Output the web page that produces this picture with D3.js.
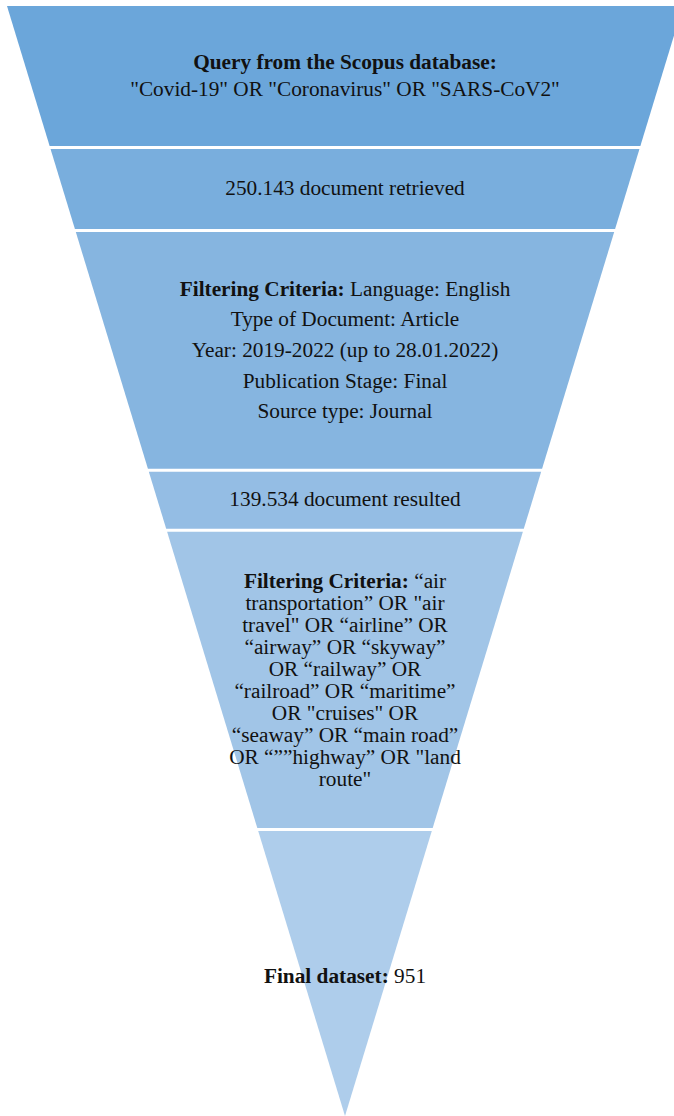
<!DOCTYPE html>
<html>
<head>
<meta charset="utf-8">
<script src="https://cdn.jsdelivr.net/npm/d3@7"></script>
<style>
  html, body { margin: 0; padding: 0; background: #fff; }
  svg { display: block; }
  text { font-family: "Times New Roman", "Liberation Serif", Tinos, "DejaVu Serif", serif; }
</style>
</head>
<body>
<div id="chart"></div>
<script>
// ---- Data ----
const stageNames = ["query", "retrieved", "filter1", "resulted", "filter2", "final"];
// relative heights of each funnel stage
const stageWeights = [141.5, 83, 239.8, 60, 299.2, 286.5];
const stageColors = ["#6ba6da", "#79aedd", "#86b5e0", "#94bde4", "#a1c5e7", "#aecdeb"];
// text lines per stage: each line is list of [text, bold]
const stageText = [
  [[["Query from the Scopus database:", true]],
   [["\"Covid-19\" OR \"Coronavirus\" OR \"SARS-CoV2\"", false]]],
  [[["250.143 document retrieved", false]]],
  [[["Filtering Criteria:", true], [" Language: English", false]],
   [["Type of Document: Article", false]],
   [["Year: 2019-2022 (up to 28.01.2022)", false]],
   [["Publication Stage: Final", false]],
   [["Source type: Journal", false]]],
  [[["139.534 document resulted", false]]],
  [[["Filtering Criteria:", true], [" \u201cair", false]],
   [["transportation\u201d OR \"air", false]],
   [["travel\" OR \u201cairline\u201d OR", false]],
   [["\u201cairway\u201d OR \u201cskyway\u201d", false]],
   [["OR \u201crailway\u201d OR", false]],
   [["\u201crailroad\u201d OR \u201cmaritime\u201d", false]],
   [["OR \"cruises\" OR", false]],
   [["\u201cseaway\u201d OR \u201cmain road\u201d", false]],
   [["OR \u201c\u201d\u201dhighway\u201d OR \"land", false]],
   [["route\"", false]]],
  [[["Final dataset:", true], [" 951", false]]]
];
const lineSpacing = [27, 0, 30.6, 0, 22, 0];
const textCenterY = [75.5, 188, 350, 499, 679.5, 976];

// ---- Layout ----
const W = 674, H = 1116;
const yTop = 6, yBottom = 1116, cx = 345, halfTop = 338, gap = 1.5;
const fontSize = 21.3;

const svg = d3.select("#chart").append("svg").attr("width", W).attr("height", H);

const total = d3.sum(stageWeights);
const y = d3.scaleLinear().domain([0, total]).range([yTop, yBottom]);
const half = d3.scaleLinear().domain([yTop, yBottom]).range([halfTop, 0]);

const cum = [0];
stageWeights.forEach(w => cum.push(cum[cum.length - 1] + w));

const segs = stageNames.map((n, i) => {
  const y0 = y(cum[i]) + (i > 0 ? gap : 0);
  const y1 = y(cum[i + 1]) - (i < stageNames.length - 1 ? gap : 0);
  return { name: n, y0, y1, color: stageColors[i] };
});

svg.selectAll("path.seg").data(segs).join("path")
  .attr("class", "seg")
  .attr("fill", d => d.color)
  .attr("d", d => {
    const pts = [
      [cx - half(d.y0), d.y0], [cx + half(d.y0), d.y0],
      [cx + half(d.y1), d.y1], [cx - half(d.y1), d.y1]
    ];
    return d3.line()(pts) + "Z";
  });

stageText.forEach((lines, i) => {
  const n = lines.length;
  const cy = textCenterY[i];
  lines.forEach((parts, j) => {
    const ly = cy + (j - (n - 1) / 2) * lineSpacing[i] + 7;
    const t = svg.append("text")
      .attr("x", cx).attr("y", ly)
      .attr("text-anchor", "middle")
      .attr("font-size", fontSize)
      .attr("fill", "#111");
    parts.forEach(([txt, b]) => {
      t.append("tspan").attr("font-weight", b ? "bold" : "normal").text(txt);
    });
  });
});
</script>
</body>
</html>
